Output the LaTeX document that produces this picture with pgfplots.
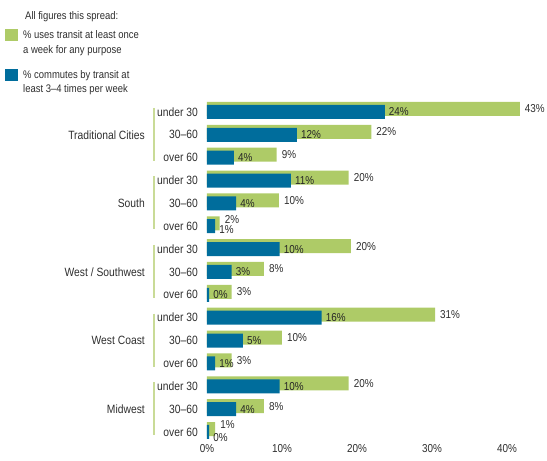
\documentclass[border=0pt]{standalone}
\usepackage{pgfplots}
\pgfplotsset{compat=1.18}
\usepackage{pgfplotstable}
\usepackage{fontspec}
\setmainfont{Liberation Sans}[FakeStretch=0.86]
\definecolor{tgreen}{HTML}{AECB67}
\definecolor{tblue}{HTML}{006D9C}
\definecolor{tline}{HTML}{C9DB97}
\definecolor{ttext}{HTML}{2E2E2E}

% row: position of the row (blue bar centre); gy: green bar centre; gly/bly: label positions
\pgfplotstableread{
row gy    g    gl gly   b    bl bly
0   -0.13 41.7 43 -0.13 23.7 24 0
1   0.87  21.9 22 0.87  12.0 12 1
2   1.87  9.3  9  1.87  3.6  4  2
3   2.87  18.9 20 2.87  11.2 11 3
4   3.87  9.6  10 3.87  3.9  4  4
5   4.87  1.7  2  4.72  1.1  1  5.15
6   5.87  19.2 20 5.87  9.7  10 6
7   6.87  7.6  8  6.87  3.3  3  7
8   7.87  3.3  3  7.87  0.3  0  8
9   8.87  30.4 31 8.87  15.3 16 9
10  9.87  10.0 10 9.87  4.8  5  10
11  10.87 3.3  3  10.87 1.1  1  11
12  11.87 18.9 20 11.87 9.7  10 12
13  12.87 7.6  8  12.87 3.9  4  13
14  13.87 1.1  1  13.68 0.3  0  14.26
}\data

\begin{document}
\begin{tikzpicture}[x=1pt,y=1pt]
\path[use as bounding box] (0,0) rectangle (547,461);
\begin{axis}[
  at={(207pt,17.6pt)}, anchor=south west,
  scale only axis, width=337.5pt, height=342.9pt,
  xmin=0, xmax=45, ymin=-0.5, ymax=14.5,
  enlargelimits=false, y dir=reverse, clip=false,
  axis line style={draw=none}, tick style={draw=none},
  major tick length=0pt,
  xtick={0,10,20,30,40},
  xticklabels={0\%,10\%,20\%,30\%,40\%},
  ytick={0,...,14},
  yticklabels={under 30,30–60,over 60,under 30,30–60,over 60,under 30,30–60,over 60,under 30,30–60,over 60,under 30,30–60,over 60},
  xticklabel style={font=\fontsize{11.5}{13}\selectfont, text=ttext, inner sep=0pt, anchor=north, yshift=-0.5pt},
  yticklabel style={font=\fontsize{12}{14}\selectfont, text=ttext, inner sep=0pt, anchor=east, xshift=-9pt},
]
\addplot[xbar, bar shift=0pt, bar width=14pt, fill=tgreen, draw=none] table[x=g, y=gy]{\data};
\addplot[xbar, bar shift=0pt, bar width=14pt, fill=tblue, draw=none] table[x=b, y=row]{\data};
\addplot[only marks, mark=none, point meta=explicit symbolic,
  nodes near coords={\pgfplotspointmeta\%},
  nodes near coords style={anchor=west, inner sep=0pt, xshift=5pt, font=\fontsize{11.5}{13}\selectfont, text=ttext}]
  table[x=g, y=gly, meta=gl]{\data};
\addplot[only marks, mark=none, point meta=explicit symbolic,
  nodes near coords={\pgfplotspointmeta\%},
  nodes near coords style={anchor=west, inner sep=0pt, xshift=4pt, font=\fontsize{11.5}{13}\selectfont, text=black!85}]
  table[x=b, y=bly, meta=bl]{\data};
% group labels and separators
\foreach \s/\lab in {0/{Traditional Cities},3/{South},6/{West / Southwest},9/{West Coast},12/{Midwest}}{
  \pgfmathsetmacro{\mid}{\s+1}
  \pgfmathsetmacro{\top}{\s-0.18}
  \pgfmathsetmacro{\bot}{\s+2.14}
  \edef\temp{\noexpand\node[anchor=east, inner sep=0pt, font=\noexpand\fontsize{12}{14}\noexpand\selectfont, text=ttext] at ([xshift=-62pt]axis cs:0,\mid) {\lab};
  \noexpand\draw[tline, line width=1.5pt] ([xshift=-53pt]axis cs:0,\top) -- ([xshift=-53pt]axis cs:0,\bot);}
  \temp
}
\end{axis}
% legend
\begin{scope}[font=\fontsize{11}{13}\selectfont, every node/.style={inner sep=0pt, anchor=base west, text=ttext}]
\node at (25,441.5) {All figures this spread:};
\fill[tgreen] (5,432) rectangle (18,420);
\node at (23,422.4) {\% uses transit at least once};
\node at (23,407.8) {a week for any purpose};
\fill[tblue] (5,392) rectangle (18,380);
\node at (23,382.2) {\% commutes by transit at};
\node at (23,368.4) {least 3–4 times per week};
\end{scope}
\end{tikzpicture}
\end{document}
